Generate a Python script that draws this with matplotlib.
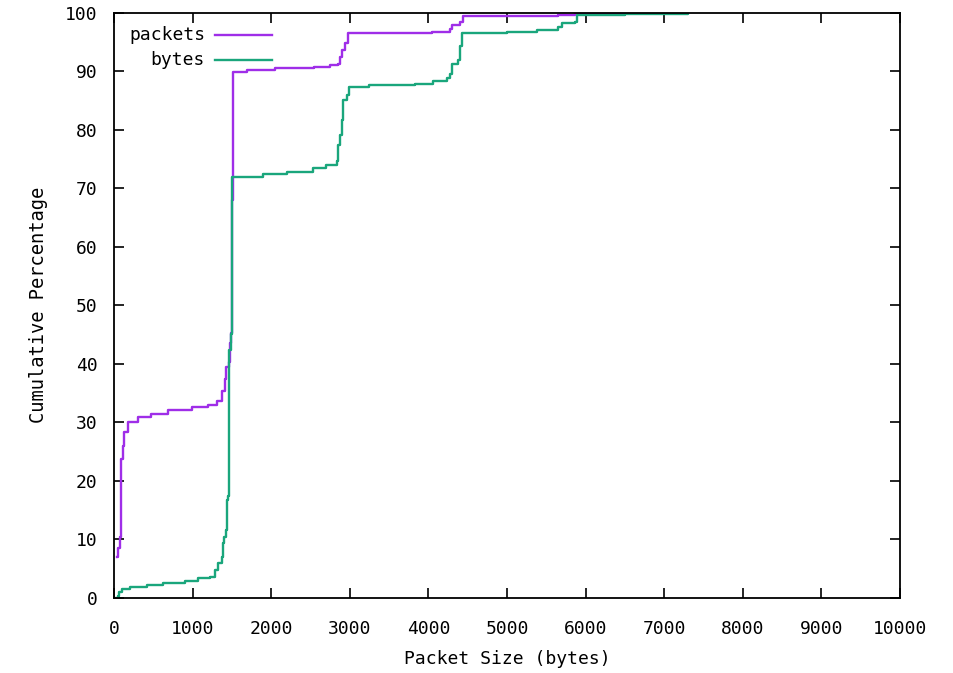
import numpy as np
import matplotlib
matplotlib.use('Agg')
import matplotlib.pyplot as plt

# cumulative distribution of packet sizes
pkt_x = [40, 55, 80, 90, 110, 130, 180, 300, 475, 690, 990, 1200, 1310, 1370,
         1415, 1420, 1465, 1480, 1490, 1495, 1500, 1510, 1690, 2050, 2550, 2750,
         2855, 2870, 2900, 2940, 2975, 4040, 4275, 4300, 4400, 4440, 5650, 5870,
         5950, 7300]
pkt_y = [7.0, 8.5, 10.4, 23.7, 26.0, 28.3, 30.0, 30.9, 31.4, 32.1, 32.6, 32.9,
         33.7, 35.4, 37.4, 39.4, 40.3, 43.6, 45.2, 65.0, 68.0, 89.9, 90.2, 90.5,
         90.8, 91.1, 91.3, 92.5, 93.6, 94.8, 96.5, 96.8, 97.3, 97.9, 98.5, 99.4,
         99.6, 99.9, 100.0, 100.0]

byte_x = [30, 55, 67, 98, 204, 416, 628, 903, 1073, 1221, 1285, 1327, 1370, 1391,
          1400, 1425, 1441, 1454, 1465, 1485, 1505, 1900, 2200, 2530, 2700, 2835,
          2850, 2875, 2897, 2913, 2960, 2990, 3240, 3830, 4060, 4230, 4275, 4296,
          4380, 4402, 4423, 5000, 5380, 5650, 5695, 5865, 5886, 6500, 7300]
byte_y = [0.0, 0.2, 1.0, 1.4, 1.9, 2.2, 2.5, 2.9, 3.3, 3.6, 4.7, 5.9, 7.0, 9.3,
          10.4, 11.6, 16.7, 17.3, 42.3, 45.0, 71.9, 72.5, 72.8, 73.4, 74.0, 74.6,
          77.4, 79.1, 81.6, 85.1, 85.9, 87.3, 87.6, 87.9, 88.3, 88.8, 89.6, 91.3,
          91.9, 94.4, 96.5, 96.8, 97.0, 97.6, 98.2, 98.5, 99.6, 99.8, 100.0]

x_ticks = list(range(0, 10001, 1000))
y_ticks = list(range(0, 101, 10))

purple = '#9f2ee8'
green = '#1aa67c'

plt.rcParams['font.family'] = ['DejaVu Sans Mono']
fig = plt.figure(figsize=(9.54, 6.73), dpi=100)
ax = fig.add_axes([0.1195, 0.112, 0.824, 0.869])

ax.plot(pkt_x, pkt_y, drawstyle='steps-post', color=purple, lw=1.7)
ax.plot(byte_x, byte_y, drawstyle='steps-post', color=green, lw=1.7)

ax.set_xlim(0, 10000)
ax.set_ylim(0, 100)
ax.set_xticks(x_ticks)
ax.set_yticks(y_ticks)
ax.tick_params(axis='x', pad=16)
ax.tick_params(axis='y', pad=12)
ax.tick_params(direction='in', length=7, width=1.2, top=True, right=True,
               labelsize=13)
for s in ax.spines.values():
    s.set_linewidth(1.3)
ax.set_xlabel('Packet Size (bytes)', fontsize=13, labelpad=9)
ax.set_ylabel('Cumulative Percentage', fontsize=13.5, labelpad=12)

# gnuplot style key: right aligned labels, sample line after
for label, col, yy in [('packets', purple, 0.962), ('bytes', green, 0.919)]:
    ax.text(0.1158, yy, label, transform=ax.transAxes, ha='right', va='center',
            fontsize=13)
    ax.plot([0.1285, 0.201], [yy, yy], transform=ax.transAxes, color=col, lw=1.7)

fig.savefig('out.png', dpi=100)
